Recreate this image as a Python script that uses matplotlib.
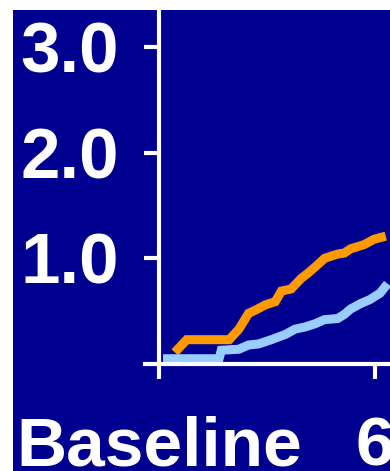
import matplotlib
matplotlib.use('Agg')
import matplotlib.pyplot as plt
from matplotlib.patches import Rectangle

# values (x in months, y in units of the axis)
orange_x = [0.44, 0.77, 1.95, 2.22, 2.49, 2.68, 2.96, 3.23, 3.40, 3.67, 3.95,
            4.14, 4.41, 4.60, 4.96, 5.15, 5.32, 5.70, 5.97, 6.30]
orange_y = [0.11, 0.23, 0.23, 0.33, 0.48, 0.51, 0.56, 0.59, 0.69, 0.71, 0.81,
            0.86, 0.94, 1.00, 1.04, 1.05, 1.09, 1.13, 1.18, 1.21]

blue_x = [0.11, 1.67, 1.73, 2.22, 2.49, 2.77, 3.12, 3.51, 3.78, 4.05, 4.33,
          4.60, 4.96, 5.15, 5.32, 5.59, 5.86, 6.14, 6.35]
blue_y = [0.05, 0.05, 0.13, 0.14, 0.18, 0.19, 0.23, 0.28, 0.33, 0.35, 0.38,
          0.42, 0.43, 0.47, 0.52, 0.57, 0.61, 0.67, 0.76]

x_ticks = [0, 6]
x_labels = ['Baseline', '6']
y_ticks = [1.0, 2.0, 3.0]
y_labels = ['1.0', '2.0', '3.0']

bg = '#000090'

fig = plt.figure(figsize=(3.9, 4.71), dpi=100)
fig.patch.set_facecolor('white')

# blue backdrop, leaving the thin white strips at left and top
back = fig.add_axes([13/390, 0, 1, 461/471], zorder=-10)
back.set_facecolor(bg)
back.set_axis_off()
back.add_patch(Rectangle((0, 0), 1, 1, transform=back.transAxes,
                         facecolor=bg, edgecolor='none'))

ax = fig.add_axes([159/390, 107/471, 234/390, 354/471])
ax.patch.set_alpha(0)

ax.plot(orange_x, orange_y, color='#FF9900', lw=6.5, solid_capstyle='butt',
        solid_joinstyle='miter', clip_on=False)
ax.plot(blue_x, blue_y, color='#99CCFF', lw=6.5, solid_capstyle='butt',
        solid_joinstyle='miter', clip_on=False)

ax.set_xlim(0, 6.5)
ax.set_ylim(0, 3.35)

for s in ['top', 'right']:
    ax.spines[s].set_visible(False)
for s in ['left', 'bottom']:
    ax.spines[s].set_color('white')
    ax.spines[s].set_linewidth(3)

ax.set_xticks(x_ticks)
ax.set_xticklabels(x_labels)
ax.set_yticks(y_ticks)
ax.set_yticklabels(y_labels)
ax.tick_params(colors='white', length=11, width=3, direction='out')
ax.tick_params(axis='y', pad=18)
ax.tick_params(axis='x', pad=26)
for lab in ax.get_xticklabels():
    lab.set_fontfamily('Liberation Sans')
    lab.set_fontweight('bold')
    lab.set_fontsize(50)
    lab.set_color('white')
for lab in ax.get_yticklabels():
    lab.set_fontfamily('Liberation Sans')
    lab.set_fontweight('bold')
    lab.set_fontsize(51)
    lab.set_color('white')

# small overshoot of the x axis to the left of the y axis
ax.plot([-0.4, 0], [0, 0], color='white', lw=3, clip_on=False)

fig.savefig('out.png', dpi=100, facecolor=fig.get_facecolor())
